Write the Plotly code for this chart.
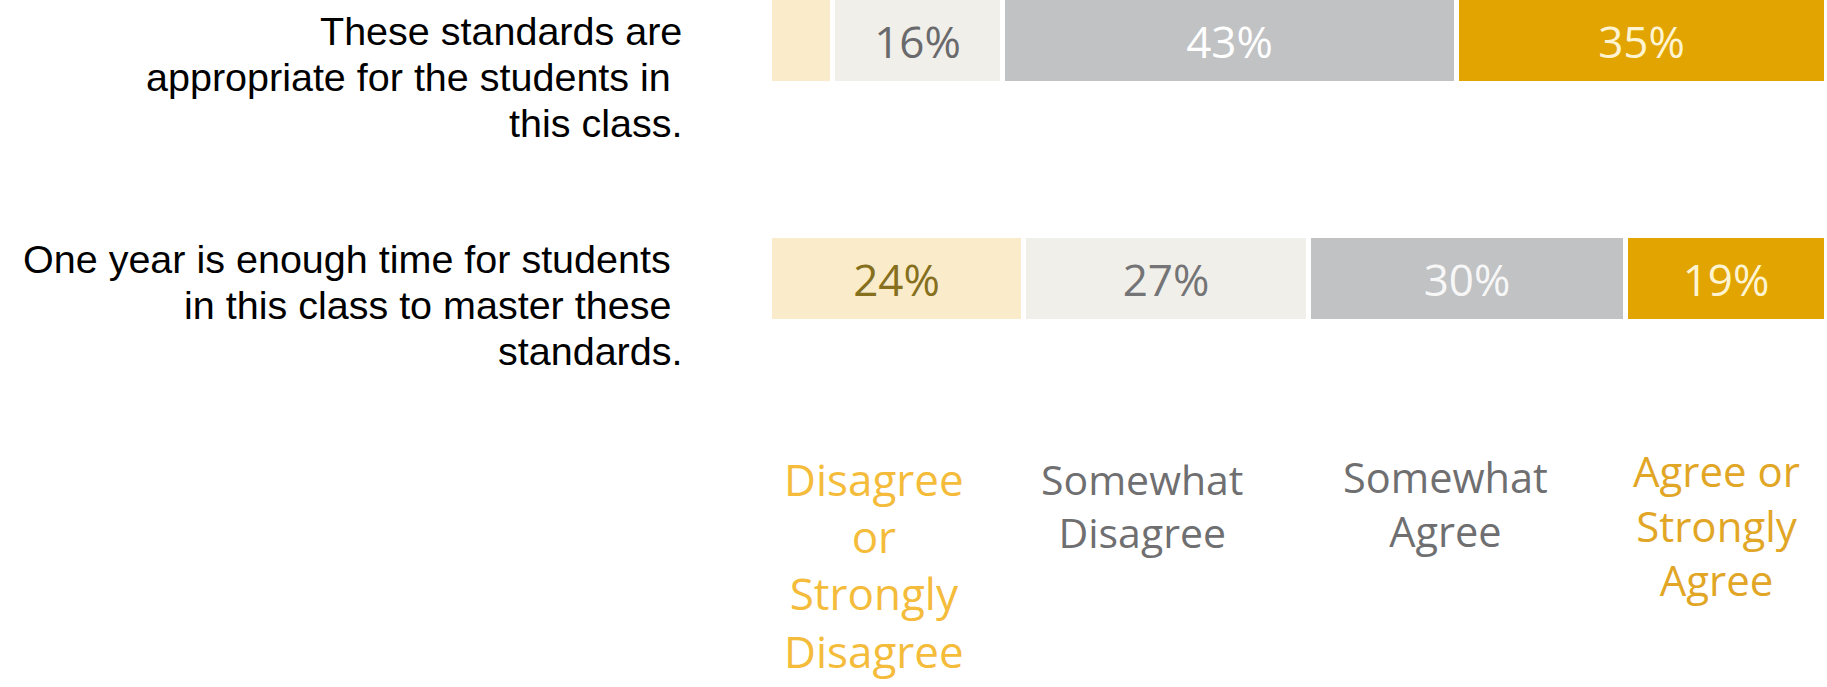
import plotly.graph_objects as go

# ---------------- data ----------------
statements = [
    "These standards are<br>appropriate for the students in\u00a0<br>this class.",
    "One year is enough time for students\u00a0<br>in this class to master these\u00a0<br>standards.",
]
responses = [
    "Disagree<br>or<br>Strongly<br>Disagree",
    "Somewhat<br>Disagree",
    "Somewhat<br>Agree",
    "Agree or<br>Strongly<br>Agree",
]
values = {
    responses[0]: [6, 24],
    responses[1]: [16, 27],
    responses[2]: [43, 30],
    responses[3]: [35, 19],
}

# ---------------- styles ----------------
bar_colors = ["#FAECCB", "#F1EFEA", "#C1C2C4", "#E1A400"]
text_colors = [
    ["#86701E", "#86701E"],
    ["#6A6A6C", "#747476"],
    ["#FFFFFF", "#F7F7F7"],
    ["#FFF4D2", "#FFF4D2"],
]
legend_colors = ["#F4BC3A", "#6F6F71", "#6F6F71", "#E2A626"]
legend_sizes = [44, 41, 41.5, 42]

W, H = 1827, 687
x0_px = 770
cats = list(range(len(statements)))

# bar centre rows: pixel 41 and 279 -> 238 px per category
px_per_cat = 238.0
y_top = -41 / px_per_cat
y_bot = y_top + H / px_per_cat

fig = go.Figure()
for i, r in enumerate(responses):
    vals = values[r]
    fig.add_trace(go.Bar(
        y=cats,
        x=vals,
        orientation="h",
        width=86 / px_per_cat,
        marker=dict(color=bar_colors[i], line=dict(color="white", width=5)),
        text=[f"{v}%" if v >= 10 else "" for v in vals],
        textposition="inside",
        insidetextanchor="middle",
        textangle=0,
        textfont=dict(family="Open Sans", size=44, color=text_colors[i]),
        hoverinfo="skip",
        showlegend=False,
    ))

fig.update_layout(
    width=W, height=H,
    margin=dict(l=0, r=0, t=0, b=0),
    paper_bgcolor="white", plot_bgcolor="white",
    barmode="stack",
    bargap=0,
    xaxis=dict(domain=[x0_px / W, 1], range=[0, 100], visible=False, fixedrange=True),
    yaxis=dict(range=[y_bot, y_top], visible=False, fixedrange=True),
)

# statement labels (one annotation per line for tight line spacing)
label_first_offsets = [-0.042, -0.086]
line_step = 46 / px_per_cat
annotations = []
for ci, s in enumerate(statements):
    for li, line in enumerate(s.split("<br>")):
        annotations.append(dict(
            xref="paper", yref="y",
            x=684 / W, y=ci + label_first_offsets[ci] + li * line_step,
            xanchor="right", yanchor="middle",
            text=line, showarrow=False,
            font=dict(family="Liberation Sans, Arial", size=39.5, color="black"),
        ))

# response labels below the bars
col_x_px = [874, 1142, 1445, 1716]
col_mid_px = [565, 505, 504, 525]
for i, r in enumerate(responses):
    annotations.append(dict(
        xref="paper", yref="paper",
        x=col_x_px[i] / W, y=1 - col_mid_px[i] / H,
        xanchor="center", yanchor="middle",
        text=r, showarrow=False, align="center",
        font=dict(family="Open Sans", size=legend_sizes[i], color=legend_colors[i]),
    ))

fig.update_layout(annotations=annotations)
fig.write_html("out.html")
